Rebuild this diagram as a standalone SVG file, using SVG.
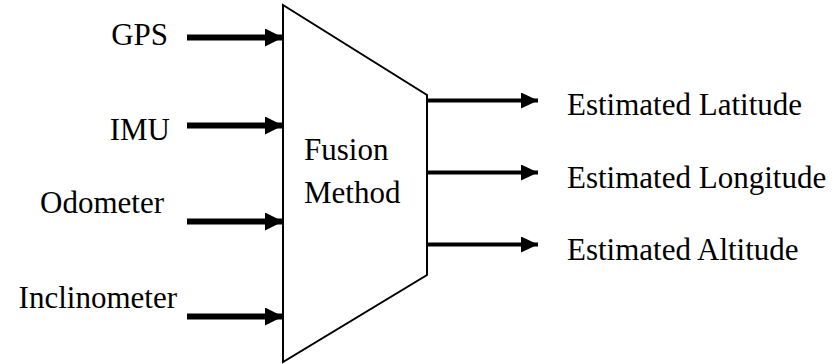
<svg xmlns="http://www.w3.org/2000/svg" width="839" height="364" viewBox="0 0 839 364">
<style>
text{font-family:'Liberation Serif','Tinos','Times New Roman','DejaVu Serif',serif;font-size:31px;fill:#000}
.in{stroke:#000;stroke-width:6;fill:none}
.out{stroke:#000;stroke-width:4;fill:none}
.box{fill:#fff;stroke:#000;stroke-width:2}
</style>
<defs>
<marker id="hin" markerUnits="userSpaceOnUse" markerWidth="18" markerHeight="18" refX="17" refY="9" orient="auto" viewBox="0 0 18 18"><path d="M0,0 L18,9 L0,18 Z" fill="#000"/></marker>
<marker id="hout" markerUnits="userSpaceOnUse" markerWidth="17" markerHeight="16" refX="17" refY="8" orient="auto" viewBox="0 0 17 16"><path d="M0,0 L17,8 L0,16 Z" fill="#000"/></marker>
</defs>
<g id="fusion">
<path class="box" d="M283,5 L427,95 L427,275 L283,362 Z"/>
<text x="304" y="160">Fusion</text>
<text x="304" y="203">Method</text>
</g>
<g id="gps"><text x="168" y="45" text-anchor="end">GPS</text></g>
<g id="imu"><text x="170" y="140" text-anchor="end">IMU</text></g>
<g id="odometer"><text x="164" y="213" text-anchor="end">Odometer</text></g>
<g id="inclinometer"><text x="177" y="308" text-anchor="end">Inclinometer</text></g>
<g id="lat"><text x="567" y="115">Estimated Latitude</text></g>
<g id="lon"><text x="567" y="188">Estimated Longitude</text></g>
<g id="alt"><text x="567" y="260">Estimated Altitude</text></g>
<g id="connectors">
<line class="in" x1="187" y1="37.5" x2="282" y2="37.5" marker-end="url(#hin)"/>
<line class="in" x1="187" y1="125.5" x2="282" y2="125.5" marker-end="url(#hin)"/>
<line class="in" x1="187" y1="221.5" x2="282" y2="221.5" marker-end="url(#hin)"/>
<line class="in" x1="187" y1="316.5" x2="282" y2="316.5" marker-end="url(#hin)"/>
<line class="out" x1="427" y1="100.5" x2="538" y2="100.5" marker-end="url(#hout)"/>
<line class="out" x1="427" y1="172.5" x2="538" y2="172.5" marker-end="url(#hout)"/>
<line class="out" x1="427" y1="244.5" x2="538" y2="244.5" marker-end="url(#hout)"/>
</g>
</svg>
